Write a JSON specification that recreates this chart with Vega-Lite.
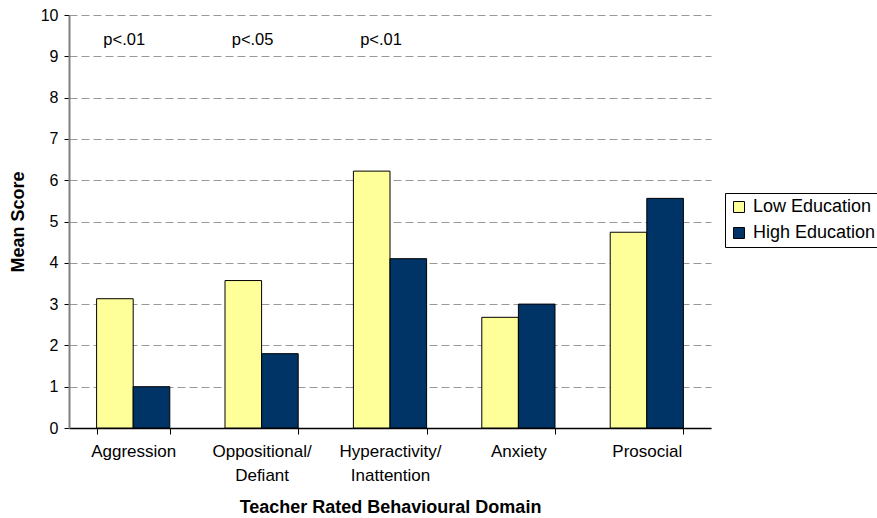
{
  "$schema": "https://vega.github.io/schema/vega-lite/v6.json",
  "autosize": "none",
  "width": 642,
  "height": 413,
  "padding": {"left": 69, "top": 15, "right": 166, "bottom": 90},
  "background": "white",
  "config": {
    "font": "Liberation Sans",
    "view": {"stroke": null}
  },
  "datasets": {
    "bars": [
      {"domain": "Aggression", "group": "Low Education", "score": 3.13},
      {"domain": "Aggression", "group": "High Education", "score": 1.0},
      {"domain": "Oppositional/Defiant", "group": "Low Education", "score": 3.57},
      {"domain": "Oppositional/Defiant", "group": "High Education", "score": 1.8},
      {"domain": "Hyperactivity/Inattention", "group": "Low Education", "score": 6.22},
      {"domain": "Hyperactivity/Inattention", "group": "High Education", "score": 4.1},
      {"domain": "Anxiety", "group": "Low Education", "score": 2.68},
      {"domain": "Anxiety", "group": "High Education", "score": 3.0},
      {"domain": "Prosocial", "group": "Low Education", "score": 4.74},
      {"domain": "Prosocial", "group": "High Education", "score": 5.56}
    ],
    "notes": [
      {"domain": "Aggression", "label": "p<.01", "y": 9.4},
      {"domain": "Oppositional/Defiant", "label": "p<.05", "y": 9.4},
      {"domain": "Hyperactivity/Inattention", "label": "p<.01", "y": 9.4}
    ]
  },
  "layer": [
    {
      "data": {"name": "bars"},
      "mark": {"type": "bar", "stroke": "black", "strokeWidth": 1},
      "encoding": {
        "x": {
          "field": "domain",
          "type": "nominal",
          "sort": ["Aggression", "Oppositional/Defiant", "Hyperactivity/Inattention", "Anxiety", "Prosocial"],
          "scale": {"paddingInner": 0.43, "paddingOuter": 0.215},
          "axis": {
            "title": "Teacher Rated Behavioural Domain",
            "titleFontSize": 18,
            "titleFontWeight": "bold",
            "titleColor": "black",
            "titlePadding": 15,
            "labelAngle": 0,
            "labelFontSize": 17,
            "labelColor": "black",
            "labelPadding": 9,
            "labelLineHeight": 24,
            "labelLimit": 200,
            "labelExpr": "indexof(datum.label, '/') > 0 ? [slice(datum.label, 0, indexof(datum.label, '/') + 1), slice(datum.label, indexof(datum.label, '/') + 1)] : datum.label",
            "tickBand": "extent",
            "tickColor": "black",
            "tickSize": 6,
            "domainColor": "black",
            "domainWidth": 1.5,
            "grid": false
          }
        },
        "xOffset": {
          "field": "group",
          "type": "nominal",
          "sort": ["Low Education", "High Education"],
          "scale": {"paddingInner": 0, "paddingOuter": 0}
        },
        "y": {
          "field": "score",
          "type": "quantitative",
          "scale": {"domain": [0, 10], "nice": false},
          "axis": {
            "title": "Mean Score",
            "titleFontSize": 18,
            "titleFontWeight": "bold",
            "titleColor": "black",
            "titlePadding": 13,
            "values": [0, 1, 2, 3, 4, 5, 6, 7, 8, 9, 10],
            "labelFontSize": 16,
            "labelColor": "black",
            "labelPadding": 6,
            "tickColor": "black",
            "tickSize": 5,
            "domainColor": "#808080",
            "domainWidth": 2,
            "grid": true,
            "gridColor": "#999999",
            "gridDash": [8, 4],
            "gridWidth": 1
          }
        },
        "color": {
          "field": "group",
          "type": "nominal",
          "sort": ["Low Education", "High Education"],
          "scale": {"domain": ["Low Education", "High Education"], "range": ["#FFFF99", "#003366"]},
          "legend": {
            "orient": "none",
            "legendX": 656,
            "legendY": 178,
            "title": null,
            "strokeColor": "black",
            "fillColor": "white",
            "padding": 5,
            "symbolType": "square",
            "symbolSize": 121,
            "symbolStrokeColor": "black",
            "symbolStrokeWidth": 1,
            "symbolOpacity": 1,
            "labelFontSize": 18,
            "labelColor": "black",
            "labelLimit": 300,
            "rowPadding": 8,
            "labelOffset": 5
          }
        }
      }
    },
    {
      "data": {"name": "notes"},
      "mark": {"type": "text", "fontSize": 16.5, "color": "black", "align": "center", "baseline": "middle", "dx": -9},
      "encoding": {
        "x": {"field": "domain", "type": "nominal", "sort": ["Aggression", "Oppositional/Defiant", "Hyperactivity/Inattention", "Anxiety", "Prosocial"]},
        "y": {"field": "y", "type": "quantitative"},
        "text": {"field": "label", "type": "nominal"}
      }
    }
  ]
}
